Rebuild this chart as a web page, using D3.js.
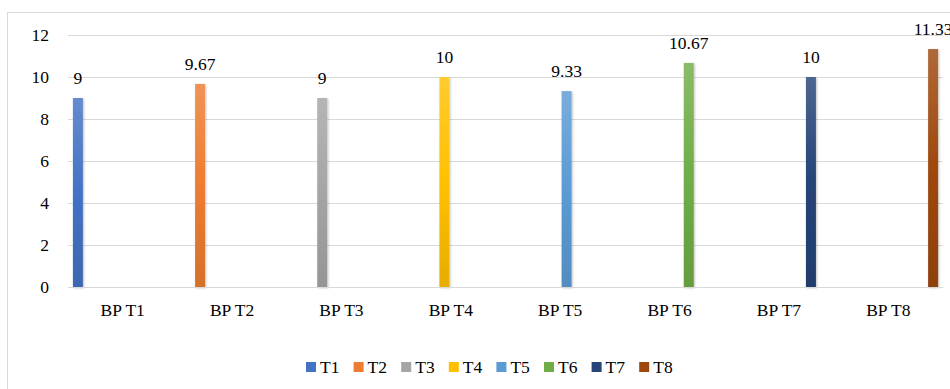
<!DOCTYPE html>
<html>
<head>
<meta charset="utf-8">
<script src="https://cdn.jsdelivr.net/npm/d3@7"></script>
<style>
  html, body { margin: 0; padding: 0; background: #fff; }
  svg { display: block; }
  svg text { font-family: 'Liberation Serif', 'Times New Roman', serif !important; }
</style>
</head>
<body>
<svg id="chart" width="950" height="389"></svg>
<script>
const categories = ["BP T1", "BP T2", "BP T3", "BP T4", "BP T5", "BP T6", "BP T7", "BP T8"];
const seriesNames = ["T1", "T2", "T3", "T4", "T5", "T6", "T7", "T8"];
const seriesValues = [9, 9.67, 9, 10, 9.33, 10.67, 10, 11.33];
const seriesColors = ["#4472C4", "#ED7D31", "#A5A5A5", "#FFC000", "#5B9BD5", "#70AD47", "#264478", "#9E480E"];
const yTicks = [0, 2, 4, 6, 8, 10, 12];

const FONT = "'Liberation Serif', 'Times New Roman', serif";
const FS = "17.5px";

const svg = d3.select("#chart");
const plot = { left: 68, right: 943, top: 35, bottom: 287 };

// chart frame
svg.append("rect")
  .attr("x", 7.5).attr("y", 12.5)
  .attr("width", 960).attr("height", 400)
  .attr("fill", "#fff").attr("stroke", "#d9d9d9").attr("stroke-width", 1);

const y = d3.scaleLinear().domain([0, 12]).range([plot.bottom, plot.top]);
const x0 = d3.scaleBand().domain(categories).range([plot.left, plot.right]).padding(0);
const inset = 3.5;
const x1 = d3.scaleBand().domain(seriesNames)
  .range([inset, x0.bandwidth() - inset])
  .paddingInner(0.22).paddingOuter(0.11);

// gradients
const defs = svg.append("defs");
seriesColors.forEach((c, i) => {
  const g = defs.append("linearGradient").attr("id", "grad" + i)
    .attr("x1", 0).attr("y1", 0).attr("x2", 0).attr("y2", 1);
  g.append("stop").attr("offset", "0%").attr("stop-color", d3.interpolateRgb(c, "#fff")(0.18));
  g.append("stop").attr("offset", "50%").attr("stop-color", c);
  g.append("stop").attr("offset", "100%").attr("stop-color", d3.interpolateRgb(c, "#000")(0.1));
});
const f = defs.append("filter").attr("id", "shadow").attr("x", "-50%").attr("y", "-10%").attr("width", "200%").attr("height", "120%");
f.append("feDropShadow").attr("dx", 1).attr("dy", 1).attr("stdDeviation", 1).attr("flood-color", "#000").attr("flood-opacity", 0.25);

// gridlines + y tick labels
const yAxis = d3.axisLeft(y).tickValues(yTicks).tickSize(-(plot.right - plot.left)).tickPadding(19);
const ga = svg.append("g").attr("transform", `translate(${plot.left},0)`).call(yAxis)
  .attr("font-family", FONT).attr("font-size", FS);
ga.select(".domain").remove();
ga.selectAll(".tick line").attr("stroke", "#d9d9d9").attr("stroke-width", 1);
ga.selectAll(".tick text").attr("fill", "#000");

// bars: each category holds one series value
const data = categories.map((c, i) => ({ cat: c, series: seriesNames[i], value: seriesValues[i], idx: i }));

svg.append("g").selectAll("rect").data(data).enter().append("rect")
  .attr("x", d => x0(d.cat) + x1(d.series))
  .attr("y", d => y(d.value))
  .attr("width", x1.bandwidth())
  .attr("height", d => y(0) - y(d.value))
  .attr("fill", d => `url(#grad${d.idx})`)
  .attr("filter", "url(#shadow)");

// data labels
svg.append("g").attr("font-family", FONT).attr("font-size", FS)
  .selectAll("text").data(data).enter().append("text")
  .attr("x", d => x0(d.cat) + x1(d.series) + x1.bandwidth() / 2)
  .attr("y", d => y(d.value) - 14)
  .attr("text-anchor", "middle")
  .attr("fill", "#000")
  .text(d => d.value);

// category axis labels
const xAxis = d3.axisBottom(x0).tickSize(0).tickPadding(0);
const gx = svg.append("g").attr("transform", `translate(0,${plot.bottom})`).call(xAxis)
  .attr("font-family", FONT).attr("font-size", FS);
gx.select(".domain").attr("stroke", "#d9d9d9");
gx.selectAll(".tick text").attr("fill", "#000").attr("dy", "1.65em");

// legend
const legX = 306, legStep = 47.6, legY = 372;
const items = svg.append("g").attr("font-family", FONT).attr("font-size", FS)
  .selectAll("g").data(seriesNames).enter().append("g")
  .attr("transform", (d, i) => `translate(${legX + i * legStep},0)`);
items.append("rect").attr("x", 0).attr("y", legY - 10).attr("width", 10).attr("height", 10)
  .attr("fill", (d, i) => seriesColors[i]);
items.append("text").attr("x", 14).attr("y", legY + 1)
  .attr("fill", "#000").text(d => d);
</script>
</body>
</html>
